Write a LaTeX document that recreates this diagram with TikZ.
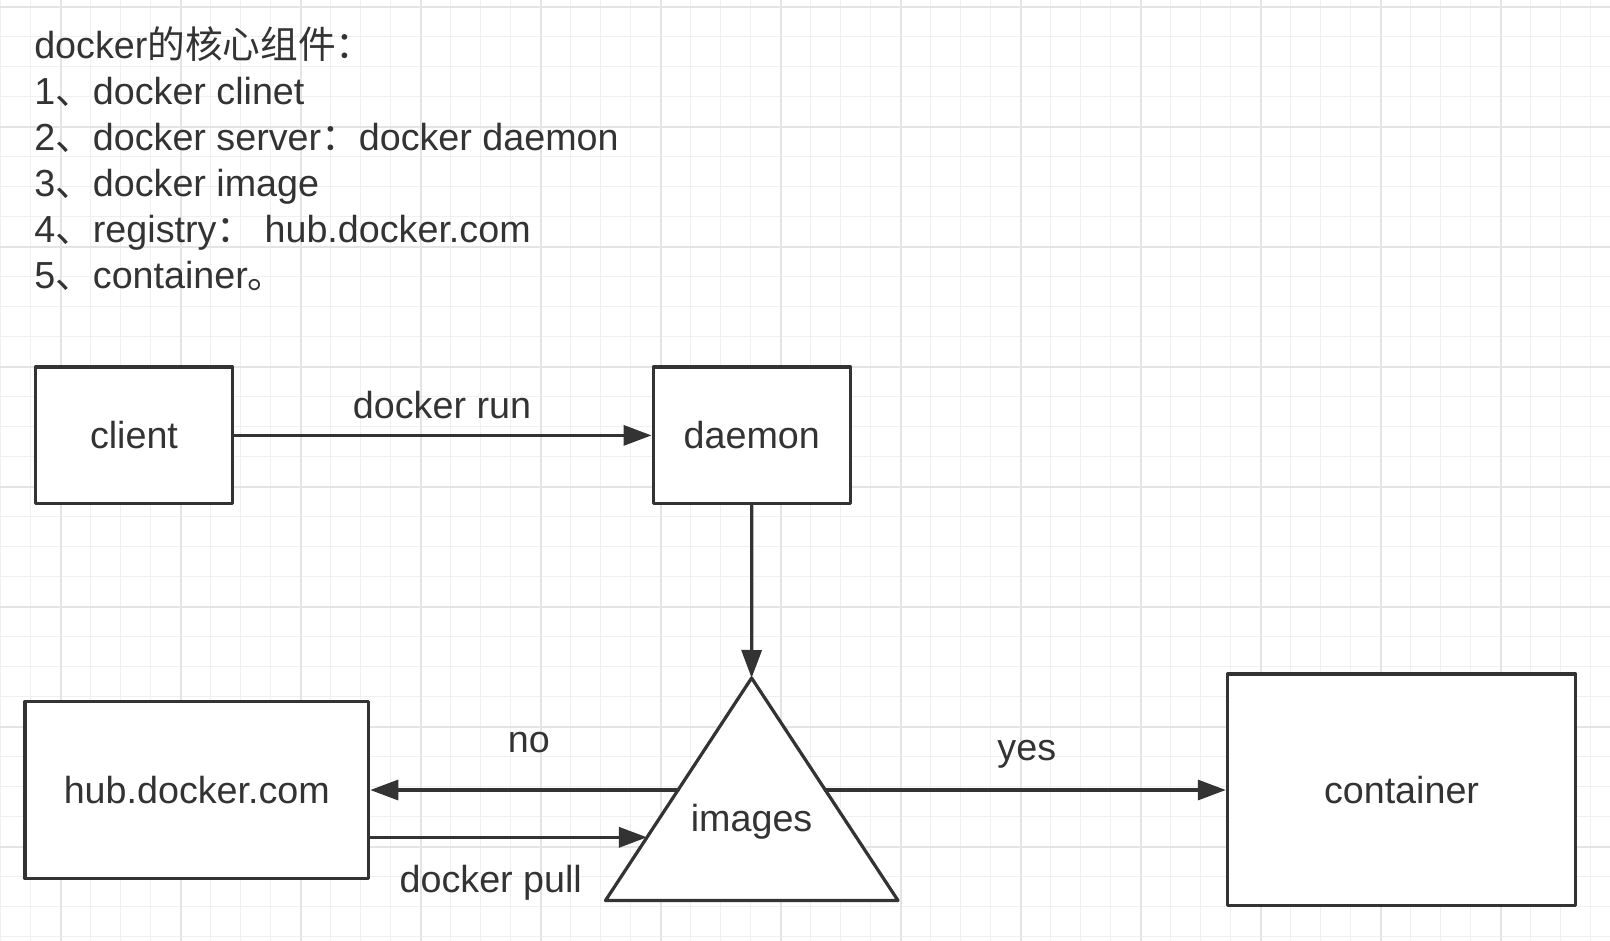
\documentclass[tikz,border=0pt]{standalone}
\usepackage{fontspec}
\setmainfont{Liberation Sans}
\newfontfamily\cjk{Noto Sans CJK SC}
\usetikzlibrary{arrows.meta,calc}

\definecolor{ink}{HTML}{333333}
\definecolor{gridfine}{HTML}{F0F0F0}
\definecolor{gridbold}{HTML}{E4E4E4}

\tikzset{
  finegrid/.style={draw=gridfine,line width=1.1pt},
  boldgrid/.style={draw=gridbold,line width=1.5pt},
  box/.style={draw=ink,fill=white,line width=2.3pt,text=ink,inner sep=0pt},
  txt/.style={text=ink,inner sep=0pt},
  flow/.style={draw=ink,line width=2.3pt,-{Triangle[length=0.7cm,width=0.5cm]}}
}

\begin{document}
\begin{tikzpicture}[line cap=round,line join=round,x=0.025cm,y=-0.025cm,font=\fontsize{26.8}{32}\selectfont]
			\useasboundingbox[fill=white] (0,0) rectangle (1610,940);
			% background grid
			\foreach \k in {0,...,53} \draw[finegrid] ({0.7+30*\k},0) -- ({0.7+30*\k},940);
			\foreach \k in {0,...,31} \draw[finegrid] (0,{6.7+30*\k}) -- (1610,{6.7+30*\k});
			\foreach \k in {0,...,12} \draw[boldgrid] ({60.7+120*\k},0) -- ({60.7+120*\k},940);
			\foreach \k in {0,...,7} \draw[boldgrid] (0,{6.7+120*\k}) -- (1610,{6.7+120*\k});
			% notes
			\node[txt,anchor=base west] (title) at (34,58.3) {docker{\cjk 的核心组件：}};
			\node[txt,anchor=base west] (item1) at (34,104.3) {1{\cjk 、}docker clinet};
			\node[txt,anchor=base west] (item2) at (34,150.3) {2{\cjk 、}docker server{\cjk ：}docker daemon};
			\node[txt,anchor=base west] (item3) at (34,196.3) {3{\cjk 、}docker image};
			\node[txt,anchor=base west] (item4) at (34,242.3) {4{\cjk 、}registry{\cjk ：} hub.docker.com};
			\node[txt,anchor=base west] (item5) at (34,288.3) {5{\cjk 、}container{\cjk 。}};
			% boxes
			\node[box,minimum width=4.93cm,minimum height=3.42cm] (client) at (134,435.4) {client};
			\node[box,minimum width=4.93cm,minimum height=3.42cm] (daemon) at (751.8,435.4) {daemon};
			\node[box,minimum width=8.59cm,minimum height=4.43cm] (hub) at (196.8,790) {hub.docker.com};
			\node[box,minimum width=8.7cm,minimum height=5.78cm] (container) at (1401.5,789.7) {container};
			% images triangle
			\coordinate (apex) at (751.6,678);
			\coordinate (baseL) at (605.5,900.5);
			\coordinate (baseR) at (898,900.5);
			\draw[box] (apex) -- (baseL) -- (baseR) -- cycle;
			\node[txt] (images) at (751.6,822) {images};
			\coordinate (noL) at ($(apex)!0.5034!(baseL)$);
			\coordinate (yesR) at ($(apex)!0.5034!(baseR)$);
			\coordinate (pullL) at ($(apex)!0.716!(baseL)$);
			% connectors
			\draw[flow] (client.east) -- (daemon.west);
			\draw[flow] (daemon.south) -- (apex);
			\draw[flow] (noL) -- (noL -| hub.east);
			\draw[flow] (hub.east |- pullL) -- (pullL);
			\draw[flow] (yesR) -- (yesR -| container.west);
			% labels
			\node[txt] (runlbl) at (442,405) {docker run};
			\node[txt] (nolbl) at (528.8,743) {no};
			\node[txt] (yeslbl) at (1026.8,754) {yes};
			\node[txt] (pulllbl) at (490.8,883) {docker pull};
			\end{tikzpicture}
\end{document}
